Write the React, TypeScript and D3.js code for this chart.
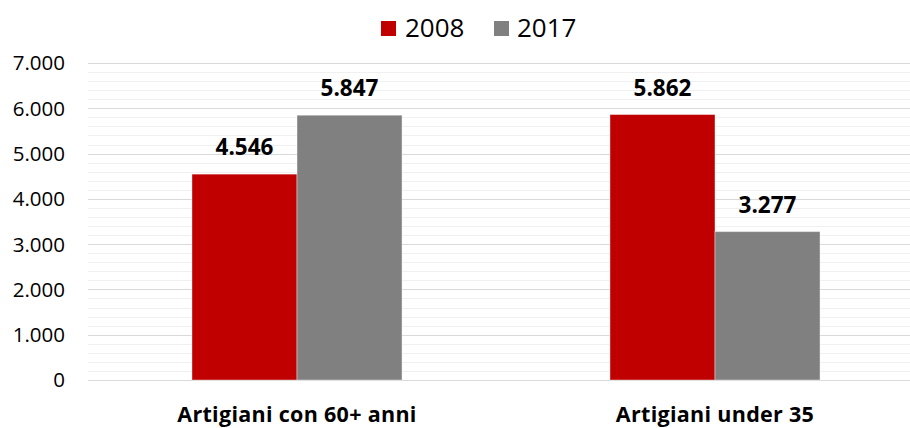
import React from "react";
import * as d3 from "d3";

const categories = ["Artigiani con 60+ anni", "Artigiani under 35"];
const seriesNames = ["2008", "2017"];
const values2008 = [4546, 5862];
const values2017 = [5847, 3277];
const colors = ["#C00000", "#808080"];
const yTicks = [0, 1000, 2000, 3000, 4000, 5000, 6000, 7000];

const W = 910;
const H = 428;
const FONT = "'Open Sans', sans-serif";

const locale = d3.formatLocale({ decimal: ",", thousands: ".", grouping: [3], currency: ["", "€"] });
const fmt = locale.format(",.0f");

export default function App() {
  const series = [values2008, values2017];
  const y = d3.scaleLinear().domain([0, 7000]).range([380, 63]);
  const x0 = d3.scaleBand<string>().domain(categories).range([88, 924]).padding(0);
  const x1 = d3
    .scaleBand<string>()
    .domain(seriesNames)
    .range([0, x0.bandwidth()])
    .paddingInner(0)
    .paddingOuter(0.99);
  const minorTicks = d3.range(0, 7001, 200).filter((v) => v % 1000 !== 0);

  return (
    <svg width={W} height={H} style={{ position: "absolute", left: 0, top: 0, background: "#fff" }}>
      {minorTicks.map((t) => (
        <line key={"m" + t} x1={88} x2={W} y1={Math.round(y(t)) + 0.5} y2={Math.round(y(t)) + 0.5} stroke="#f0f0f0" strokeWidth={1} />
      ))}
      {yTicks.map((t) => (
        <line key={"g" + t} x1={88} x2={W} y1={Math.round(y(t)) + 0.5} y2={Math.round(y(t)) + 0.5} stroke="#d9d9d9" strokeWidth={1} />
      ))}
      {yTicks.map((t) => (
        <text key={"t" + t} x={65} y={y(t)} dy="0.36em" textAnchor="end" fontFamily={FONT} fontSize={20.5} fill="#000">
          {fmt(t)}
        </text>
      ))}
      {categories.map((c, ci) => (
        <g key={c} transform={`translate(${x0(c)},0)`}>
          {seriesNames.map((s, si) => {
            const v = series[si][ci];
            const bx = x1(s)!;
            const bw = x1.bandwidth();
            return (
              <g key={s}>
                <rect x={bx} y={y(v)} width={bw} height={y(0) - y(v)} fill={colors[si]} stroke="#ffffff" strokeOpacity={0.4} strokeWidth={1} />
                <text x={bx + bw / 2} y={y(v) - 19} textAnchor="middle" fontFamily={FONT} fontSize={22.5} fontWeight="bold" fill="#000">
                  {fmt(v)}
                </text>
              </g>
            );
          })}
          <text x={x0.bandwidth() / 2} y={422} textAnchor="middle" fontFamily={FONT} fontSize={21.5} fontWeight="bold" letterSpacing={0.3} fill="#000">
            {c}
          </text>
        </g>
      ))}
      <g>
        <rect x={381} y={21} width={15} height={15} fill={colors[0]} />
        <text x={405} y={37} fontFamily={FONT} fontSize={26} fill="#000">{seriesNames[0]}</text>
        <rect x={494} y={21} width={15} height={15} fill={colors[1]} />
        <text x={517} y={37} fontFamily={FONT} fontSize={26} fill="#000">{seriesNames[1]}</text>
      </g>
    </svg>
  );
}
